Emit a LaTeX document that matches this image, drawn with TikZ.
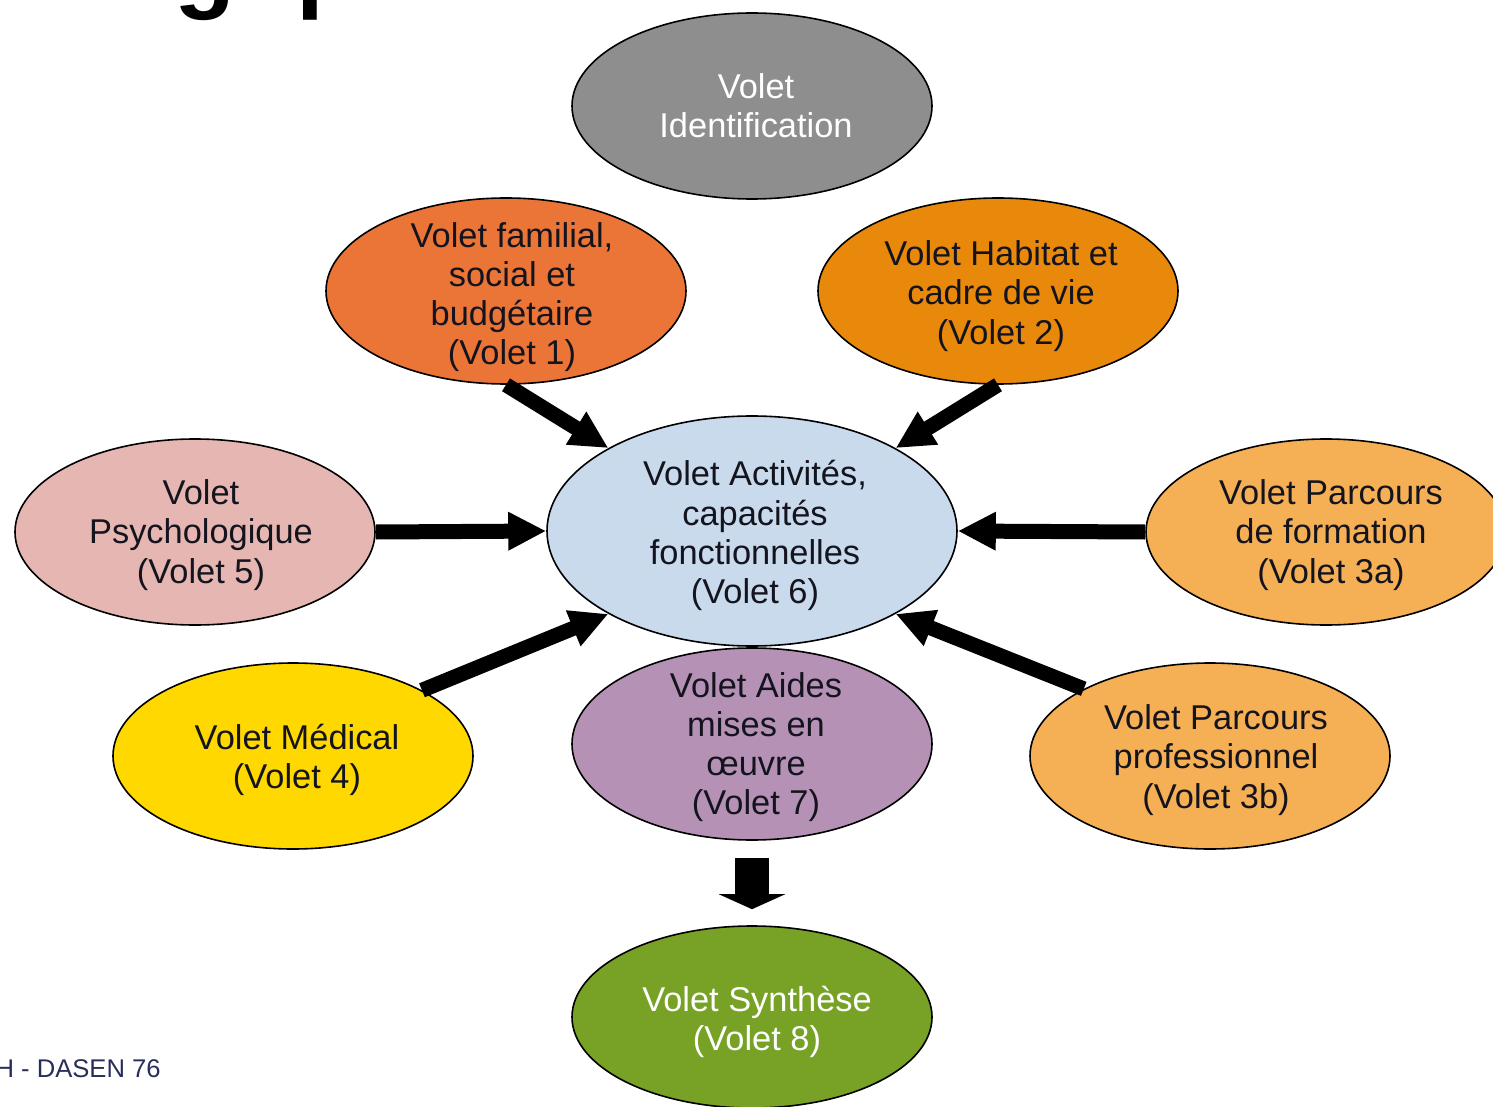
\documentclass[tikz,border=0pt]{standalone}
\usepackage{fontspec}
\setmainfont{Liberation Sans}
\usetikzlibrary{arrows.meta,shapes.geometric}
\definecolor{cGrey}{RGB}{142,142,142}
\definecolor{cFam}{RGB}{235,117,55}
\definecolor{cHab}{RGB}{232,137,12}
\definecolor{cPsy}{RGB}{230,183,178}
\definecolor{cAct}{RGB}{201,218,236}
\definecolor{cLight}{RGB}{245,175,85}
\definecolor{cMed}{RGB}{255,216,0}
\definecolor{cAid}{RGB}{181,146,181}
\definecolor{cSyn}{RGB}{119,162,38}
\definecolor{cTxt}{RGB}{20,20,30}
\definecolor{cNavy}{RGB}{40,45,90}
\tikzset{
  volet/.style={ellipse, draw=black, line width=0.8pt, inner sep=0pt,
    minimum width=180pt, minimum height=93pt},
  vtext/.style={align=center, text=cTxt, inner sep=0pt,
    font=\fontsize{17.2pt}{19.6pt}\selectfont},
  wtext/.style={vtext, text=white},
  bigarrow/.style={line width=7.5pt, -{Triangle[width=18pt,length=19pt]}},
  blockarrow/.style={line width=17pt, -{Triangle[width=33pt,length=7.5pt]}},
}
\begin{document}
\begin{tikzpicture}[x=0.5pt,y=-0.5pt]
\useasboundingbox (0,0) rectangle (1493,1107);
% title fragments cut by the top edge
\node[anchor=base west, inner sep=0pt, font=\fontsize{50pt}{55pt}\selectfont\bfseries] (tg) at (174,0) {g};
\node[anchor=base west, inner sep=0pt, font=\fontsize{50pt}{55pt}\selectfont\bfseries] (tp) at (296,0) {p};
% nodes
\node[volet, fill=cGrey, label={[wtext, xshift=2pt]center:{Volet\\Identification}}] (ide) at (752,106) {};
\node[volet, fill=cFam, label={[vtext, xshift=3pt, yshift=-3pt]center:{Volet familial,\\social et\\budgétaire\\(Volet 1)}}] (fam) at (506,291) {};
\node[volet, fill=cHab, label={[vtext, xshift=1.5pt, yshift=-2.5pt]center:{Volet Habitat et\\cadre de vie\\(Volet 2)}}] (hab) at (998,291) {};
\node[volet, fill=cPsy, label={[vtext, xshift=3pt, yshift=-1.5pt]center:{Volet\\Psychologique\\(Volet 5)}}] (psy) at (195,532) {};
\node[volet, fill=cAct, minimum width=205pt, minimum height=115pt, label={[vtext, xshift=1.5pt, yshift=-2.3pt]center:{Volet Activités,\\capacités\\fonctionnelles\\(Volet 6)}}] (act) at (752,531) {};
\node[volet, fill=cLight, label={[vtext, xshift=2.5pt, yshift=-1.5pt]center:{Volet Parcours\\de formation\\(Volet 3a)}}] (form) at (1326,532) {};
\node[volet, fill=cMed, label={[vtext, xshift=2pt, yshift=-2pt]center:{Volet Médical\\(Volet 4)}}] (med) at (293,756) {};
\node[volet, fill=cAid, minimum height=96pt, label={[vtext, xshift=2pt, yshift=-1.5pt]center:{Volet Aides\\mises en\\œuvre\\(Volet 7)}}] (aid) at (752,744) {};
\node[volet, fill=cLight, label={[vtext, xshift=3pt, yshift=-2pt]center:{Volet Parcours\\professionnel\\(Volet 3b)}}] (pro) at (1210,756) {};
\node[volet, fill=cSyn, minimum height=91pt, label={[wtext, xshift=2.5pt, yshift=-2.5pt]center:{Volet Synthèse\\(Volet 8)}}] (syn) at (752,1017) {};
% footer
\node[anchor=east, inner sep=0pt, text=cNavy, font=\fontsize{12.8pt}{14pt}\selectfont] (foot) at (161,1069) {H - DASEN 76};
% arrows
\draw[bigarrow] (fam.south) -- (act.150);
\draw[bigarrow] (hab.south) -- (act.30);
\draw[bigarrow] (psy.east) -- (act.west);
\draw[bigarrow] (form.west) -- (act.east);
\draw[bigarrow] (med.27) -- (act.210);
\draw[bigarrow] (pro.152) -- (act.330);
\draw[blockarrow, shorten <=8.5pt, shorten >=8pt] (aid.south) -- (syn.north);
\end{tikzpicture}
\end{document}
